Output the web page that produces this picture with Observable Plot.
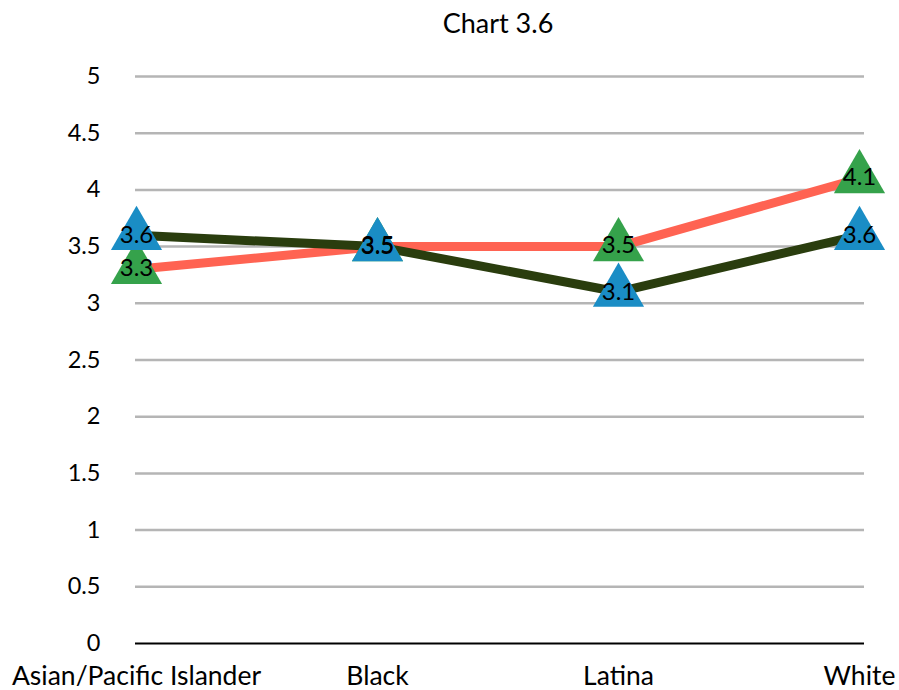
<!DOCTYPE html>
<html>
<head>
<meta charset="utf-8">
<script src="https://cdn.jsdelivr.net/npm/d3@7"></script>
<script src="https://cdn.jsdelivr.net/npm/@observablehq/plot@0.6"></script>
<style>
  body { margin: 0; background: #fff; font-family: Lato, "Open Sans", sans-serif; }
  #wrap { position: relative; width: 899px; height: 690px; }
  #title { position: absolute; left: 0; top: 5px; width: 996px; text-align: center; font-size: 27px; line-height: 36px; color: #000; }
  #chart { position: absolute; left: 0; top: 50px; }
</style>
</head>
<body>
<div id="wrap">
  <div id="title">Chart 3.6</div>
  <div id="chart"></div>
</div>
<script>
const categories = ["Asian/Pacific Islander", "Black", "Latina", "White"];
const seriesDark = [3.6, 3.5, 3.1, 3.6];   // dark green line, blue triangles
const seriesSalmon = [3.3, 3.5, 3.5, 4.1]; // salmon line, green triangles
const yTicks = [0, 0.5, 1, 1.5, 2, 2.5, 3, 3.5, 4, 4.5, 5];

const dark = categories.map((c, i) => ({cat: c, v: seriesDark[i]}));
const salmon = categories.map((c, i) => ({cat: c, v: seriesSalmon[i]}));

const fmt = d => String(d);

const plot = Plot.plot({
  width: 899,
  height: 640,
  marginTop: 26,
  marginBottom: 47,
  marginLeft: 135,
  marginRight: 35,
  style: {fontFamily: "Lato, 'Open Sans', sans-serif", background: "transparent", overflow: "visible"},
  x: {type: "point", domain: categories, range: [135, 860], padding: 0, label: null},
  y: {domain: [0, 5], label: null},
  marks: [
    Plot.gridY(yTicks.filter(d => d > 0), {stroke: "#b5b5b5", strokeOpacity: 1, strokeWidth: 2.5}),
    Plot.axisY({ticks: yTicks, tickFormat: fmt, tickSize: 0, tickPadding: 35, fontSize: 23.5, fill: "#000", label: null}),
    Plot.axisX({tickSize: 0, tickPadding: 23, fontSize: 26.5, fill: "#000", label: null}),
    Plot.ruleY([0], {stroke: "#000", strokeWidth: 2}),
    Plot.line(salmon, {x: "cat", y: "v", stroke: "#ff6352", strokeWidth: 9}),
    Plot.line(dark, {x: "cat", y: "v", stroke: "#2a3d0e", strokeWidth: 9}),
    Plot.dot(salmon, {x: "cat", y: "v", symbol: "triangle", r: 19, fill: "#35a24b", stroke: "none"}),
    Plot.dot(dark, {x: "cat", y: "v", symbol: "triangle", r: 19, fill: "#1a8dc5", stroke: "none"}),
    Plot.text(salmon, {x: "cat", y: "v", text: d => fmt(d.v), fontSize: 24, fill: "#000", dy: -1}),
    Plot.text(dark, {x: "cat", y: "v", text: d => fmt(d.v), fontSize: 24, fill: "#000", dy: 0})
  ]
});
document.getElementById("chart").appendChild(plot);
</script>
</body>
</html>
